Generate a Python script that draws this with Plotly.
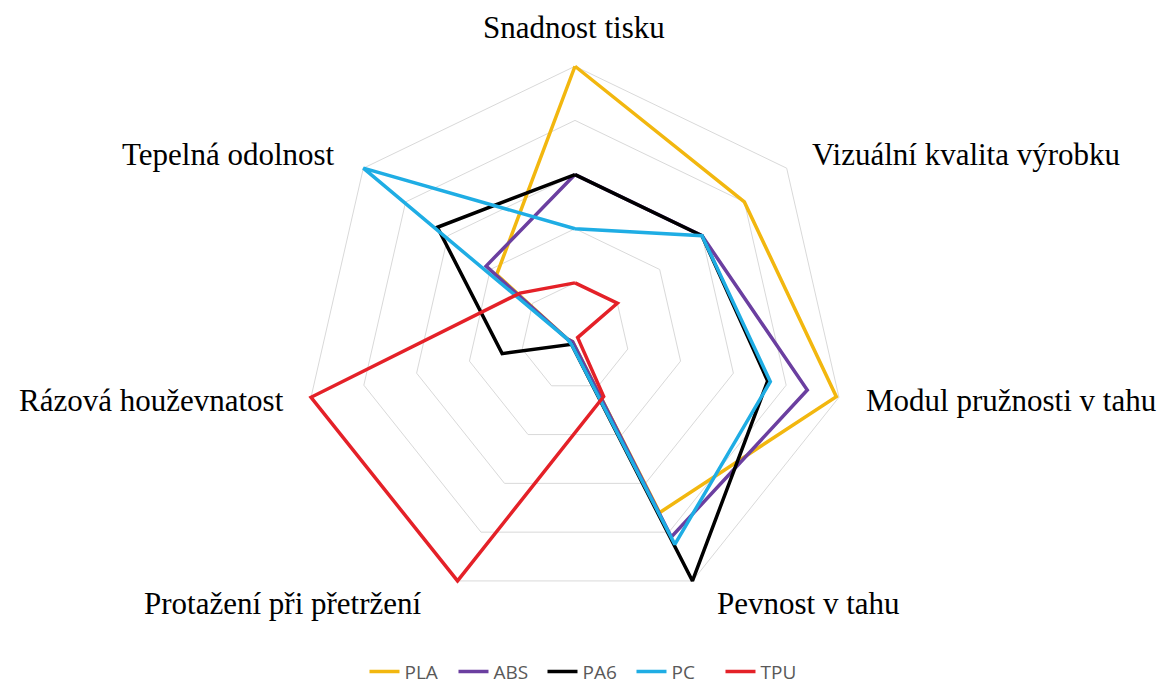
import plotly.graph_objects as go

categories = [
    "Snadnost tisku",
    "Vizuální kvalita výrobku",
    "Modul pružnosti v tahu",
    "Pevnost v tahu",
    "Protažení při přetržení",
    "Rázová houževnatost",
    "Tepelná odolnost",
]

series_names = ["PLA", "ABS", "PA6", "PC", "TPU"]
pla = [5.0, 4.0, 4.95, 3.6, 0.1, 0.15, 1.85]
abs_ = [3.0, 3.0, 4.4, 4.1, 0.1, 0.15, 2.1]
pa6 = [3.0, 3.0, 3.65, 5.0, 0.15, 1.38, 3.25]
pc = [2.0, 3.0, 3.7, 4.25, 0.15, 0.15, 5.0]
tpu = [1.0, 1.0, 0.05, 1.22, 5.0, 5.0, 1.3]

colors = ["#F2B70F", "#6B3FA0", "#000000", "#1FADE4", "#E42128"]

fig = go.Figure()
for name, vals, col in zip(series_names, [pla, abs_, pa6, pc, tpu], colors):
    fig.add_trace(go.Scatterpolar(
        r=vals + vals[:1],
        theta=categories + categories[:1],
        mode="lines",
        name=name,
        line=dict(color=col, width=3.5),
        cliponaxis=False,
    ))

W, H = 1172, 690
cx, cy, R5 = 575, 337, 271      # centre and pixel radius of value 5
RMAX = 5.06                     # radial range max (a bit beyond 5 to avoid clipping)
R = R5 * RMAX / 5.0
L, T = cx - R, cy - R
PW = PH = 2 * R

# pixel anchors for the category labels (styling only)
label_pos = [
    (574, 27, "center"),
    (810, 154, "left"),
    (864, 401, "left"),
    (715, 604, "left"),
    (424, 604, "right"),
    (286, 401, "right"),
    (337, 154, "right"),
]

annotations = []
for cat, (px, py, anch) in zip(categories, label_pos):
    annotations.append(dict(
        text=cat,
        xref="paper", yref="paper",
        x=(px - L) / PW, y=(T + PH - py) / PH,
        xanchor=anch, yanchor="middle",
        showarrow=False,
        font=dict(family="Liberation Serif", size=31, color="#000000"),
    ))

fig.update_layout(
    width=W, height=H,
    paper_bgcolor="white",
    plot_bgcolor="white",
    margin=dict(l=L, r=W - (cx + R), t=T, b=H - (cy + R), pad=0,
                autoexpand=False),
    polar=dict(
        bgcolor="white",
        gridshape="linear",
        domain=dict(x=[0, 1], y=[0, 1]),
        radialaxis=dict(
            range=[0, RMAX],
            tickvals=[1, 2, 3, 4, 5],
            showticklabels=False,
            ticks="",
            showline=False,
            gridcolor="#d9d9d9",
            gridwidth=1.3,
            layer="below traces",
        ),
        angularaxis=dict(
            direction="clockwise",
            rotation=90,
            showgrid=False,
            showline=False,
            ticks="",
            showticklabels=False,
            layer="below traces",
        ),
    ),
    annotations=annotations,
    legend=dict(
        orientation="h",
        x=(587 - L) / PW, xanchor="center",
        y=(T + PH - 672) / PH, yanchor="middle",
        font=dict(family="Open Sans", size=19, color="#595959"),
        bgcolor="rgba(0,0,0,0)",
        entrywidth=44,
        entrywidthmode="pixels",
    ),
    showlegend=True,
)

fig.write_html("out.html", post_script="document.body.style.margin='0';",
               config={"displayModeBar": False})
